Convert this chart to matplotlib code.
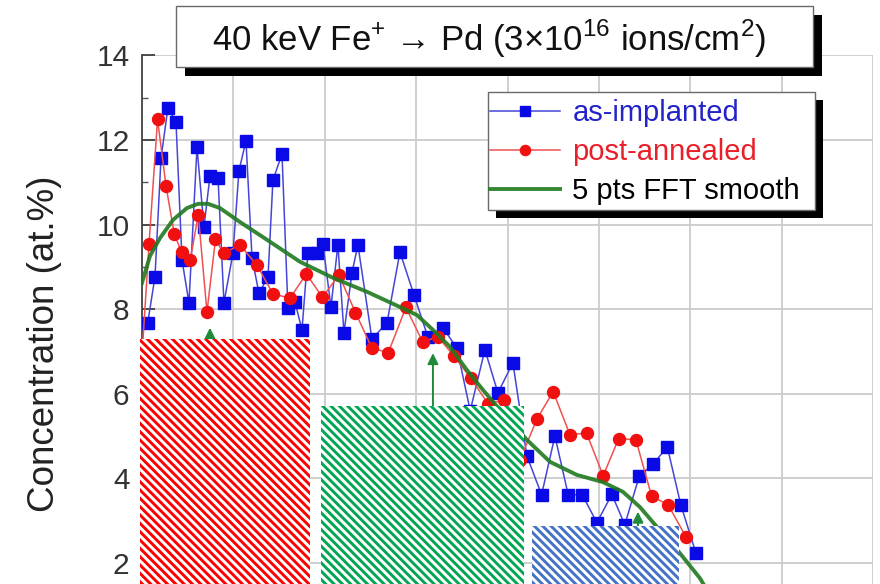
import matplotlib
matplotlib.use("Agg")
import matplotlib.pyplot as plt
from matplotlib.patches import Rectangle

plt.rcParams['font.family'] = ['Liberation Sans', 'DejaVu Sans']
plt.rcParams['mathtext.fontset'] = 'custom'
plt.rcParams['mathtext.rm'] = 'Liberation Sans'
plt.rcParams['hatch.linewidth'] = 2.1

# as-implanted (blue squares)
impl_x = [0.62, 1.42, 2.08, 2.84, 3.72, 4.38, 5.14, 6.02, 6.78, 7.44, 8.32, 8.97,
          9.96, 10.61, 11.38, 12.04, 12.80, 13.79, 14.33, 15.32, 15.97, 16.74, 17.51,
          18.16, 19.15, 19.80, 20.68, 21.44, 22.10, 22.98, 23.63, 25.16, 26.81, 28.23,
          29.76, 31.29, 32.93, 34.46, 35.92, 37.53, 38.95, 40.59, 42.12, 43.73, 45.19,
          46.64, 48.19, 49.78, 51.42, 52.84, 54.43, 55.91, 57.49, 58.97, 60.61]
impl_y = [7.67, 8.76, 11.57, 12.76, 12.43, 9.16, 8.15, 11.83, 9.94, 11.15, 11.10, 8.15,
          9.33, 11.27, 11.98, 9.21, 8.38, 8.76, 11.05, 11.67, 8.03, 8.17, 7.51,
          9.33, 9.33, 9.54, 8.05, 9.52, 7.44, 8.86, 9.52, 7.30, 7.67, 9.35,
          8.34, 7.34, 7.56, 7.08, 5.60, 7.04, 6.02, 6.73, 4.53, 3.61, 5.00,
          3.61, 3.61, 2.95, 3.62, 2.90, 4.06, 4.33, 4.74, 3.37, 2.24]

# post-annealed (red circles)
ann_x = [0.0, 0.77, 1.70, 2.63, 3.53, 4.34, 5.28, 6.16, 7.11, 8.04, 8.94, 10.72, 12.58,
         14.33, 16.19, 17.99, 19.75, 21.55, 23.36, 25.16, 26.95, 28.88, 30.71, 32.42,
         34.14, 35.96, 37.89, 39.61, 41.36, 43.22, 45.00, 46.83, 48.65, 50.47, 52.17,
         54.05, 55.77, 57.58, 59.52]
ann_y = [6.90, 9.54, 12.49, 10.91, 9.78, 9.34, 9.17, 10.23, 7.93, 9.65, 9.32, 9.52, 9.04,
         8.36, 8.26, 8.83, 8.28, 8.81, 7.92, 7.08, 6.97, 8.04, 7.23, 7.34,
         6.89, 6.37, 5.76, 5.85, 4.43, 5.40, 6.05, 5.03, 5.07, 4.06, 4.94,
         4.91, 3.58, 3.37, 2.62]

# 5 pts FFT smooth (traced)
fft_x = [0.0, 0.88, 1.97, 3.39, 4.92, 6.13, 7.22, 8.53, 10.72, 13.68, 17.29, 20.90,
         24.62, 28.23, 30.09, 31.84, 33.70, 35.56, 37.31, 39.17, 42.12, 44.64, 47.59,
         50.44, 52.63, 54.49, 56.67, 58.86, 61.05, 62.36]
fft_y = [8.62, 9.26, 9.68, 10.11, 10.39, 10.49, 10.49, 10.39, 10.06, 9.64, 9.12, 8.74,
         8.41, 8.05, 7.86, 7.51, 7.11, 6.56, 6.09, 5.62, 4.91, 4.39, 4.08,
         3.91, 3.68, 3.32, 2.77, 2.23, 1.64, 1.17]

# hatched blocks: x start, x end, top
block_x0 = [-0.25, 19.58, 42.64]
block_x1 = [18.38, 41.79, 58.75]
block_top = [7.30, 5.71, 2.87]
block_colors = ['#ff0000', '#00a651', '#4472c4']

# green arrows: x, tip
arrow_x = [7.44, 31.84, 54.28]
arrow_tip = [7.56, 6.96, 3.21]

labels = ['as-implanted', 'post-annealed', '5 pts FFT smooth']
label_colors = ['#2323c8', '#e8202a', 'black']

W, H = 880, 584
fig = plt.figure(figsize=(W / 100, H / 100), dpi=100)
ax = fig.add_axes([142 / W, 0, (873 - 142) / W, 1 - 55.4 / H])
ax.set_xlim(0, 80)
ax.set_ylim(1.5, 14)

ax.set_xticks(range(0, 81, 10))
ax.set_yticks(range(2, 15, 2))
ax.set_yticks(range(3, 14, 2), minor=True)
ax.tick_params(axis='x', length=0, labelbottom=False)
ax.tick_params(axis='y', which='major', direction='in', length=9, width=1.2,
               labelsize=21.5, pad=9, colors='#333333')
ax.tick_params(axis='y', which='minor', direction='in', length=4, width=1.0, colors='#555555')
ax.grid(True, color='#cbcbcb', lw=1.3, zorder=0)
ax.set_axisbelow(True)
for s in ['top', 'right', 'bottom']:
    ax.spines[s].set_visible(False)
ax.spines['left'].set_color('#444444')
ax.spines['left'].set_linewidth(1.3)
ax.set_ylabel('Concentration (at.%)', fontsize=26.5, color='#222222')
ax.yaxis.set_label_coords(-0.109, 0.455)

l1, = ax.plot(impl_x, impl_y, color='#4545d8', lw=1.1, marker='s', ms=8,
              mfc='#0a0ae6', mec='#0a0ae6', zorder=3)
l2, = ax.plot(ann_x, ann_y, color='#f05050', lw=1.1, marker='o', ms=8.6,
              mfc='#f01010', mec='#f01010', zorder=4)
l3, = ax.plot(fft_x, fft_y, color='#1f7a1f', lw=2.8, alpha=0.9, zorder=5)

for x, tip in zip(arrow_x, arrow_tip):
    ax.annotate('', xy=(x, tip), xytext=(x, 1.5),
                arrowprops=dict(arrowstyle='-|>', color='#1f8a3a', lw=1.4,
                                mutation_scale=16, shrinkA=0, shrinkB=0), zorder=8)

for x0, x1, top, c in zip(block_x0, block_x1, block_top, block_colors):
    ax.add_patch(Rectangle((x0, 0), x1 - x0, top, facecolor='white', edgecolor=c,
                           lw=0, hatch='\\\\\\\\', zorder=10, clip_on=False))


def fig_box(px0, py0, px1, py1, off, z):
    fig.add_artist(Rectangle((px0 / W + off[0] / W, 1 - py1 / H - off[1] / H),
                             (px1 - px0) / W, (py1 - py0) / H, transform=fig.transFigure,
                             facecolor='black', edgecolor='black', lw=0, zorder=z))
    fig.add_artist(Rectangle((px0 / W, 1 - py1 / H), (px1 - px0) / W, (py1 - py0) / H,
                             transform=fig.transFigure, facecolor='white',
                             edgecolor='#6a6a6a', lw=1.0, zorder=z + 0.1))


# title box
fig_box(176, 6, 813, 67, (9, 9), 20)
fig.text(489 / W, 1 - 39 / H,
         '40 keV Fe$^{+}$ \u2192 Pd (3\u00d710$^{16}$ ions/cm$^{2}$)',
         ha='center', va='center', fontsize=25, color='#111111', zorder=21)

# legend box
fig_box(488, 92, 815, 210, (8, 8), 20)
leg = fig.legend([l1, l2, l3], labels, loc='upper left',
                 bbox_to_anchor=(490 / W, 1 - 99 / H), bbox_transform=fig.transFigure,
                 frameon=False, borderpad=0, borderaxespad=0, handlelength=2.4,
                 handletextpad=0.42, labelspacing=0.38, fontsize=21, markerscale=0.85)
leg.set_zorder(22)
for t, c in zip(leg.get_texts(), label_colors):
    t.set_color(c)

fig.savefig('out.png', dpi=100)
